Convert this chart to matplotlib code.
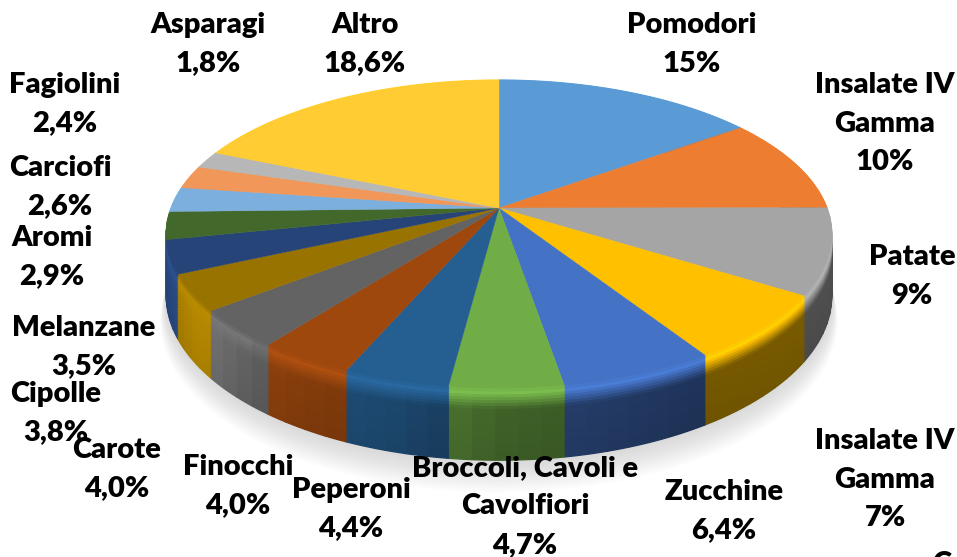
import numpy as np
import matplotlib
matplotlib.use("Agg")
import matplotlib.pyplot as plt
from matplotlib.colors import to_rgb

plt.rcParams['font.family'] = ['Lato', 'DejaVu Sans']

# slices, clockwise from 12 o'clock
values = [15, 10, 9, 7, 6.4, 4.7, 4.4, 4.0, 4.0, 3.8, 3.5, 2.9, 2.6, 2.4, 1.8, 18.6]
colors = ['#5B9BD5', '#ED7D31', '#A5A5A5', '#FFC000', '#4472C4', '#70AD47',
          '#255E91', '#9E480E', '#636363', '#997300', '#264478', '#43682B',
          '#7CAFDD', '#F1975A', '#B7B7B7', '#FFCD33']
labels = ['Pomodori\n15%', 'Insalate IV\nGamma\n10%', 'Patate\n9%', 'Insalate IV\nGamma\n7%',
          'Zucchine\n6,4%', 'Broccoli, Cavoli e\nCavolfiori\n4,7%', 'Peperoni\n4,4%',
          'Finocchi\n4,0%', 'Carote\n4,0%', 'Cipolle\n3,8%', 'Melanzane\n3,5%', 'Aromi\n2,9%',
          'Carciofi\n2,6%', 'Fagiolini\n2,4%', 'Asparagi\n1,8%', 'Altro\n18,6%']
label_x = [692, 885, 912, 885, 724, 525, 351, 238, 117, 56, 84, 52, 60, 65, 208, 365]
label_y = [25, 85, 257, 441, 492, 468, 490, 467, 450, 394, 328, 238, 168, 85, 25, 25]
line_step = 38.5

# the pie is a disc seen in perspective
cx, cy = 499, 208
R, A, k = 328, 149.6, 0.169
depth = 60


def project(ang, r=1.0, h=0.0):
    u = r * np.sin(ang)
    v = r * np.cos(ang)
    w = 1 + k * v
    return cx + R * u / w, cy - (A * v - depth * h) / w


def shade(col, t, ang):
    # rim colour at height t (0 top edge, 1 bottom), light comes from the left
    c = np.array(to_rgb(col))
    deg = np.degrees(ang)
    side = np.interp(deg, [90, 150, 180, 195, 215, 235, 260, 360],
                     [0.5, 0.47, 0.58, 0.77, 0.88, 1.22, 1.0, 1.0])
    side = side * (1 - 0.08 * t)
    top = 1.12 if side < 1 else 1.2
    if t < 0.05:
        f = 1 + (top - 1) * t / 0.05
    elif t < 0.28:
        f = top + (side - top) * (t - 0.05) / 0.23
    else:
        f = side
    return tuple(np.clip(c * f, 0, 1))


fig = plt.figure(figsize=(9.57, 5.57), dpi=100)
ax = fig.add_axes([0, 0, 1, 1])
ax.set_xlim(0, 957)
ax.set_ylim(557, 0)
ax.axis('off')

# soft shadow under the pie
full = np.linspace(0, 2 * np.pi, 300)
for i in range(14):
    sx, sy = project(full, 1.0 + 0.0012 * (14 - i), 1.0 + 0.028 * (14 - i))
    ax.fill(sx, sy, color='#808080', alpha=0.02, lw=0, zorder=1)

fr = np.array(values) / np.sum(values)
edges = np.concatenate([[0], np.cumsum(fr)]) * 2 * np.pi

# rim, from the bottom up, cut in small pieces for the shading
heights = np.linspace(1, 0, 26)
for j in range(len(heights) - 1):
    h0, h1 = heights[j], heights[j + 1]
    for i, col in enumerate(colors):
        n = max(2, int(np.degrees(edges[i + 1] - edges[i]) / 3))
        steps = np.linspace(edges[i], edges[i + 1], n + 1)
        for a0, a1 in zip(steps[:-1], steps[1:]):
            a = np.linspace(a0, a1, 4)
            x0, y0 = project(a, 1.0, h0)
            x1, y1 = project(a, 1.0, h1)
            fc = shade(col, (h0 + h1) / 2, (a0 + a1) / 2)
            ax.fill(np.r_[x0, x1[::-1]], np.r_[y0, y1[::-1]], color=fc, lw=0.9, zorder=2)

# top face
for i, col in enumerate(colors):
    a = np.linspace(edges[i], edges[i + 1], 80)
    x, y = project(a)
    ax.fill(np.r_[cx, x], np.r_[cy, y], color=col, lw=0.3, zorder=3)

for txt, x, y in zip(labels, label_x, label_y):
    for n, line in enumerate(txt.split('\n')):
        ax.text(x, y + n * line_step, line, ha='center', va='center', fontsize=21,
                fontweight='heavy', color='black', zorder=5)

# label cut off by the bottom edge of the picture
ax.text(932, 564, 'Ca', ha='left', va='center', fontsize=21, fontweight='heavy',
        color='black', zorder=5)

fig.savefig('out.png', dpi=100)
